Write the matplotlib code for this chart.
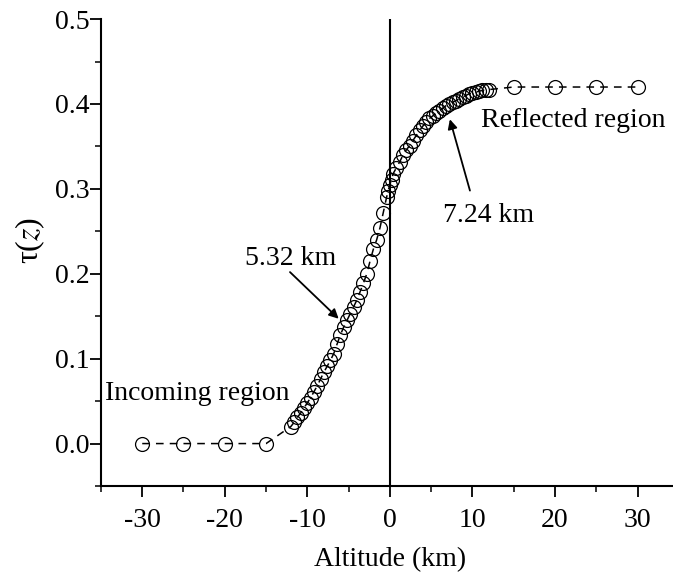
import matplotlib
matplotlib.use("Agg")
import matplotlib.pyplot as plt
from matplotlib.ticker import MultipleLocator

plt.rcParams['font.family'] = ['Liberation Serif', 'DejaVu Serif']
plt.rcParams['mathtext.fontset'] = 'stix'

# Outer (sparse) samples
x_in = [-30, -25, -20, -15]
tau_in = [0.0, 0.0, 0.0, 0.0]
x_out = [15, 20, 25, 30]
tau_out = [0.42, 0.42, 0.42, 0.42]

# Dense central samples
x_mid = [-12.0, -11.6, -11.2, -10.8, -10.4, -10.0, -9.6, -9.2, -8.8, -8.4,
         -8.0, -7.6, -7.2, -6.8, -6.4, -6.0, -5.6, -5.2, -4.8, -4.4,
         -4.0, -3.6, -3.2, -2.8, -2.4, -2.0, -1.6, -1.2, -0.8, -0.4,
         -0.2, 0.0, 0.2, 0.4, 0.8, 1.2, 1.6, 2.0, 2.4, 2.8, 3.2, 3.6,
         4.0, 4.4, 4.8, 5.2, 5.6, 6.0, 6.4, 6.8, 7.2, 7.6,
         8.0, 8.4, 8.8, 9.2, 9.6, 10.0, 10.4, 10.8, 11.2, 11.6, 12.0]
tau_mid = [0.020, 0.025, 0.031, 0.036, 0.042, 0.048, 0.054, 0.061, 0.068, 0.076,
           0.084, 0.091, 0.098, 0.106, 0.117, 0.128, 0.137, 0.145, 0.153, 0.161,
           0.169, 0.179, 0.189, 0.200, 0.215, 0.229, 0.240, 0.254, 0.272, 0.290,
           0.298, 0.305, 0.311, 0.318, 0.325, 0.332, 0.340, 0.346, 0.351, 0.357, 0.363, 0.369,
           0.374, 0.379, 0.383, 0.386, 0.389, 0.392, 0.395, 0.398, 0.400, 0.402,
           0.404, 0.406, 0.408, 0.410, 0.412, 0.413, 0.414, 0.415, 0.416, 0.417, 0.417]

x_all = x_in + x_mid + x_out
tau_all = tau_in + tau_mid + tau_out

fig = plt.figure(figsize=(6.73, 5.79), dpi=100)
ax = fig.add_axes([0.150, 0.1606, 0.850, 0.8064])

ax.plot(x_all, tau_all, color='black', linestyle=(0, (5, 4)), linewidth=1.1,
        marker='o', markersize=10, markerfacecolor='none',
        markeredgecolor='black', markeredgewidth=0.9)

ax.axvline(0, color='black', linewidth=1.5)

ax.set_xlim(-35, 34.3)
ax.set_ylim(-0.05, 0.5)
ax.xaxis.set_major_locator(MultipleLocator(10))
ax.xaxis.set_minor_locator(MultipleLocator(5))
ax.yaxis.set_major_locator(MultipleLocator(0.1))
ax.yaxis.set_minor_locator(MultipleLocator(0.05))
ax.yaxis.set_major_formatter(matplotlib.ticker.FormatStrFormatter('%.1f'))
ax.xaxis.set_major_formatter(matplotlib.ticker.FuncFormatter(lambda v, p: f"{int(v)}"))

for s in ['top', 'right']:
    ax.spines[s].set_visible(False)
for s in ['left', 'bottom']:
    ax.spines[s].set_linewidth(1.5)

ax.tick_params(which='major', direction='out', length=8, width=1.3, labelsize=20)
ax.tick_params(axis='x', which='major', pad=8)
ax.tick_params(axis='y', which='major', pad=0)
ax.tick_params(which='minor', direction='out', length=4, width=1.1)

fig.text(390 / 673, 1 - 560 / 579, 'Altitude (km)', fontsize=20,
         ha='center', va='center')
fig.text(30 / 673, 1 - 240 / 579, r'τ($z$)', fontsize=23,
         ha='center', va='center', rotation=90)

ax.text(-34.5, 0.059, 'Incoming region', fontsize=20, ha='left', va='center')
ax.text(11.1, 0.381, 'Reflected region', fontsize=20, ha='left', va='center')

ax.text(-17.6, 0.218, '5.32 km', fontsize=20, ha='left', va='center')
ax.text(6.4, 0.269, '7.24 km', fontsize=20, ha='left', va='center')

arrow = dict(arrowstyle='-|>', color='black', lw=1.3, shrinkA=0, shrinkB=0,
             mutation_scale=14)
ax.annotate('', xy=(-6.2, 0.147), xytext=(-12.1, 0.202), arrowprops=arrow)
ax.annotate('', xy=(7.27, 0.382), xytext=(9.7, 0.298), arrowprops=arrow)

fig.savefig('out.png', dpi=100)
